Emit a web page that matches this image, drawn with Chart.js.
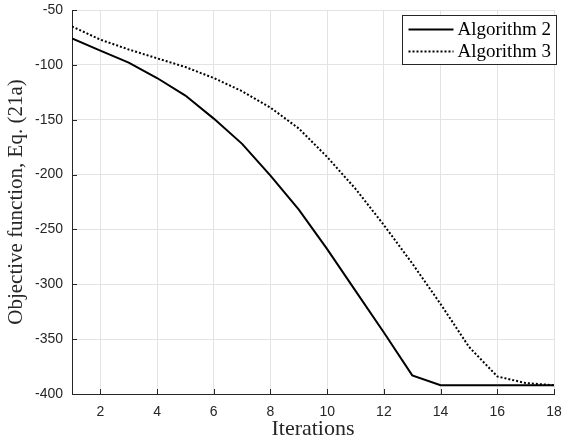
<!DOCTYPE html>
<html lang="en">
<head>
    <meta charset="UTF-8">
    <title>Objective function vs iterations</title>
    <script src="https://cdn.jsdelivr.net/npm/chart.js@4.4.1/dist/chart.umd.min.js"></script>
    <style>
        html, body { margin: 0; padding: 0; background: #fff; }
        #wrap { width: 569px; height: 440px; }
    </style>
</head>
<body>
    <div id="wrap"><canvas id="myChart" width="569" height="440"></canvas></div>

    <script>
        // values
        const iterations = [1, 2, 3, 4, 5, 6, 7, 8, 9, 10, 11, 12, 13, 14, 15, 16, 17, 18];
        const algorithm2 = [-76, -87, -98, -112, -128, -149, -172, -201, -232, -268, -306, -344, -383, -392, -392, -392, -392, -392];
        const algorithm3 = [-65, -77, -86, -94, -102, -112, -124, -139, -158, -184, -213, -246, -281, -318, -357, -384, -390, -392];
        const seriesNames = ['Algorithm 2', 'Algorithm 3'];
        const xTicks = [2, 4, 6, 8, 10, 12, 14, 16, 18];
        const yTicks = [-400, -350, -300, -250, -200, -150, -100, -50];

        const axisColor = '#262626';
        const gridColor = '#e3e3e3';
        const serif = "'Liberation Serif', 'DejaVu Serif', serif";
        const sans = "'Liberation Sans', Arial, sans-serif";

        function points(ys) {
            return iterations.map((x, i) => ({ x: x, y: ys[i] }));
        }

        // MATLAB style inward tick marks + boxed legend
        const matlabBits = {
            id: 'matlabBits',
            afterDraw(chart) {
                const ctx = chart.ctx;
                const area = chart.chartArea;
                const xs = chart.scales.x, ys = chart.scales.y;
                ctx.save();
                ctx.strokeStyle = axisColor;
                ctx.lineWidth = 1;
                ctx.beginPath();
                xTicks.forEach(v => {
                    const px = Math.round(xs.getPixelForValue(v)) + 0.5;
                    ctx.moveTo(px, area.bottom);
                    ctx.lineTo(px, area.bottom - 5);
                });
                yTicks.forEach(v => {
                    const py = Math.round(ys.getPixelForValue(v)) + 0.5;
                    ctx.moveTo(area.left, py);
                    ctx.lineTo(area.left + 5, py);
                });
                ctx.stroke();

                // legend box
                const boxRight = area.right + 2;
                const boxTop = area.top + 5;
                const boxW = 154, boxH = 49;
                const bx = Math.round(boxRight - boxW) + 0.5;
                const by = Math.round(boxTop) + 0.5;
                ctx.fillStyle = '#fff';
                ctx.fillRect(bx, by, boxW, boxH);
                ctx.strokeStyle = axisColor;
                ctx.lineWidth = 1;
                ctx.strokeRect(bx, by, boxW, boxH);

                ctx.font = '19px ' + serif;
                ctx.textBaseline = 'middle';
                ctx.fillStyle = '#000';
                chart.data.datasets.forEach((ds, i) => {
                    const ly = by + 14 + i * 22;
                    ctx.beginPath();
                    ctx.setLineDash(ds.borderDash || []);
                    ctx.lineWidth = ds.borderWidth;
                    ctx.strokeStyle = ds.borderColor;
                    ctx.moveTo(bx + 6, ly);
                    ctx.lineTo(bx + 51, ly);
                    ctx.stroke();
                    ctx.setLineDash([]);
                    ctx.fillText(ds.label, bx + 55, ly + 1);
                });
                ctx.restore();
            }
        };

        const ctx = document.getElementById('myChart').getContext('2d');
        const myChart = new Chart(ctx, {
            type: 'line',
            data: {
                datasets: [{
                    label: seriesNames[0],
                    data: points(algorithm2),
                    borderColor: '#000',
                    borderWidth: 2,
                    pointRadius: 0,
                    tension: 0,
                    fill: false
                }, {
                    label: seriesNames[1],
                    data: points(algorithm3),
                    borderColor: '#000',
                    borderWidth: 2,
                    borderDash: [2, 2],
                    pointRadius: 0,
                    tension: 0,
                    fill: false
                }]
            },
            options: {
                responsive: false,
                animation: false,
                layout: { padding: { top: 10, right: 15, left: 0, bottom: 0 } },
                plugins: {
                    legend: { display: false },
                    tooltip: { enabled: false }
                },
                scales: {
                    x: {
                        type: 'linear',
                        min: 1,
                        max: 18,
                        afterBuildTicks: s => { s.ticks = xTicks.map(v => ({ value: v })); },
                        afterFit: s => { s.height = 46; s.paddingLeft = 0; s.paddingRight = 0; },
                        grid: { color: gridColor, drawTicks: false },
                        border: { display: true, color: axisColor, width: 1 },
                        ticks: {
                            color: axisColor,
                            font: { family: sans, size: 14 },
                            padding: 10,
                            maxRotation: 0
                        },
                        title: {
                            display: true,
                            text: 'Iterations',
                            color: '#262626',
                            font: { family: serif, size: 22, lineHeight: 1 },
                            padding: { top: 0, bottom: 0 }
                        }
                    },
                    y: {
                        min: -400,
                        max: -50,
                        afterBuildTicks: s => { s.ticks = yTicks.map(v => ({ value: v })); },
                        afterFit: s => { s.width = 72; s.paddingTop = 0; s.paddingBottom = 0; },
                        grid: { color: gridColor, drawTicks: false },
                        border: { display: true, color: axisColor, width: 1 },
                        ticks: {
                            color: axisColor,
                            font: { family: sans, size: 14 },
                            padding: 9
                        },
                        title: {
                            display: true,
                            text: 'Objective function, Eq. (21a)',
                            color: '#262626',
                            font: { family: serif, size: 21, lineHeight: 1 },
                            padding: { top: 6, bottom: 0 }
                        }
                    }
                }
            },
            plugins: [matlabBits]
        });
    </script>
</body>
</html>
